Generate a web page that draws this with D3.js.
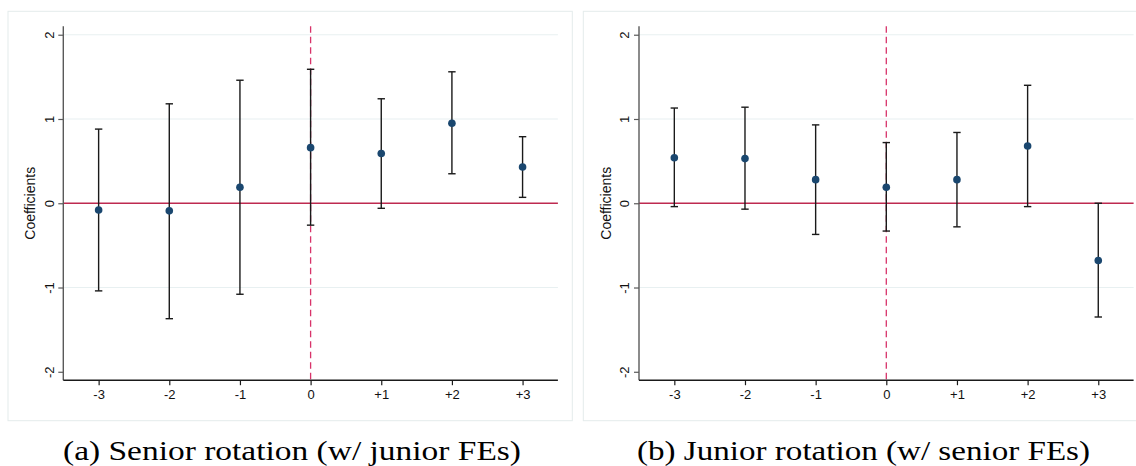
<!DOCTYPE html>
<html>
<head>
<meta charset="utf-8">
<script src="https://cdn.jsdelivr.net/npm/d3@7"></script>
<style>
  html, body { margin: 0; padding: 0; background: #ffffff; }
  svg { display: block; }
</style>
</head>
<body>
<svg id="chart" width="1136" height="466"></svg>
<script>
// Event-time periods relative to the rotation
const periods = [-3, -2, -1, 0, 1, 2, 3];
const periodLabels = ["-3", "-2", "-1", "0", "+1", "+2", "+3"];
const yTicks = [-2, -1, 0, 1, 2];
const gridTicks = [-1, 1, 2];

// (a) Senior rotation (w/ junior FEs)
const seniorCoef = [-0.08, -0.09, 0.19, 0.66, 0.59, 0.95, 0.43];
const seniorLo   = [-1.04, -1.37, -1.08, -0.26, -0.06, 0.35, 0.07];
const seniorHi   = [0.88, 1.18, 1.46, 1.59, 1.24, 1.56, 0.79];

// (b) Junior rotation (w/ senior FEs)
const juniorCoef = [0.54, 0.53, 0.28, 0.19, 0.28, 0.68, -0.68];
const juniorLo   = [-0.04, -0.07, -0.37, -0.33, -0.28, -0.04, -1.35];
const juniorHi   = [1.13, 1.14, 0.93, 0.72, 0.84, 1.40, 0.00];

const captions = ["(a) Senior rotation (w/ junior FEs)", "(b) Junior rotation (w/ senior FEs)"];

const svg = d3.select("#chart");
const sansFont = "'Liberation Sans', Arial, Helvetica, sans-serif";
const serifFont = "'Liberation Serif', 'Times New Roman', serif";

function drawPanel(cfg) {
  const { frameX, axisX0, axisX1, coef, lo, hi, caption, captionX, captionW } = cfg;
  const g = svg.append("g");

  // outer frame
  g.append("rect")
    .attr("x", frameX).attr("y", 11.3)
    .attr("width", 564.3).attr("height", 409.4)
    .attr("fill", "none").attr("stroke", "#e4ecec").attr("stroke-width", 1);

  const x = d3.scaleLinear().domain([-3.5, 3.5]).range([axisX0, axisX1]);
  const y = d3.scaleLinear().domain([-2.1, 2.1]).range([380.2, 26.3]);

  // horizontal gridlines
  g.append("g").selectAll("line").data(gridTicks).join("line")
    .attr("x1", axisX0).attr("x2", axisX1)
    .attr("y1", d => y(d)).attr("y2", d => y(d))
    .attr("stroke", "#e8f0f1").attr("stroke-width", 1.2);

  // zero line
  g.append("line")
    .attr("x1", axisX0).attr("x2", axisX1)
    .attr("y1", y(0)).attr("y2", y(0))
    .attr("stroke", "#be2a50").attr("stroke-width", 1.4);

  // dashed reference line at period 0
  g.append("line")
    .attr("x1", x(0)).attr("x2", x(0))
    .attr("y1", y(2.1)).attr("y2", y(-2.1))
    .attr("stroke", "#d8336a").attr("stroke-width", 1.3)
    .attr("stroke-dasharray", "6.5,4");

  const rows = periods.map((p, i) => ({ p, c: coef[i], lo: lo[i], hi: hi[i] }));

  // confidence intervals with caps
  const bars = g.append("g").selectAll("g").data(rows).join("g")
    .attr("stroke", "#1a1a1a").attr("stroke-width", 1.4);
  bars.append("line")
    .attr("x1", d => x(d.p)).attr("x2", d => x(d.p))
    .attr("y1", d => y(d.hi)).attr("y2", d => y(d.lo));
  bars.append("line")
    .attr("x1", d => x(d.p) - 3.7).attr("x2", d => x(d.p) + 3.7)
    .attr("y1", d => y(d.hi)).attr("y2", d => y(d.hi));
  bars.append("line")
    .attr("x1", d => x(d.p) - 3.7).attr("x2", d => x(d.p) + 3.7)
    .attr("y1", d => y(d.lo)).attr("y2", d => y(d.lo));

  // point estimates
  g.append("g").selectAll("circle").data(rows).join("circle")
    .attr("cx", d => x(d.p)).attr("cy", d => y(d.c))
    .attr("r", 3.8).attr("fill", "#1a476f");

  // y axis
  const yAxis = g.append("g")
    .attr("transform", `translate(${axisX0},0)`)
    .call(d3.axisLeft(y).tickValues(yTicks).tickSize(5).tickFormat(d3.format("d")));
  yAxis.select(".domain").attr("stroke", "#5a5a5a").attr("stroke-width", 1.4)
    .attr("d", `M0,${y(2.1)}V${y(-2.1)}`);
  yAxis.selectAll(".tick line").attr("stroke", "#5a5a5a").attr("stroke-width", 1.2);
  yAxis.selectAll(".tick text")
    .attr("x", null).attr("dy", null)
    .attr("transform", "translate(-9.6,0) rotate(-90)")
    .attr("text-anchor", "middle")
    .attr("fill", "#111")
    .style("font-family", sansFont).style("font-size", "13px")
    .text(d => d < 0 ? "-" + Math.abs(d) : d);

  // x axis
  const xAxis = g.append("g")
    .attr("transform", `translate(0,${y(-2.1)})`)
    .call(d3.axisBottom(x).tickValues(periods).tickSize(5)
      .tickFormat((d, i) => periodLabels[i]));
  xAxis.select(".domain").attr("stroke", "#1a1a1a").attr("stroke-width", 1.4)
    .attr("d", `M${axisX0},0H${axisX1}`);
  xAxis.selectAll(".tick line").attr("stroke", "#1a1a1a").attr("stroke-width", 1.2);
  xAxis.selectAll(".tick text")
    .attr("y", 19.3).attr("dy", null)
    .attr("fill", "#111")
    .style("font-family", sansFont).style("font-size", "13px");
  yAxis.attr("font-family", null).attr("font-size", null);
  xAxis.attr("font-family", null).attr("font-size", null);

  // y axis title
  g.append("text")
    .attr("transform", `translate(${axisX0 - 28},${y(0)}) rotate(-90)`)
    .attr("text-anchor", "middle")
    .attr("fill", "#111")
    .style("font-family", sansFont).style("font-size", "14px")
    .text("Coefficients");

  // caption below the panel
  g.append("text")
    .attr("x", captionX).attr("y", 459.5)
    .attr("textLength", captionW).attr("lengthAdjust", "spacingAndGlyphs")
    .attr("fill", "#000")
    .style("font-family", serifFont).style("font-size", "28px")
    .text(caption);
}

drawPanel({
  frameX: 8, axisX0: 63.3, axisX1: 557.9,
  coef: seniorCoef, lo: seniorLo, hi: seniorHi,
  caption: captions[0], captionX: 63, captionW: 458
});
drawPanel({
  frameX: 583.3, axisX0: 639, axisX1: 1133.6,
  coef: juniorCoef, lo: juniorLo, hi: juniorHi,
  caption: captions[1], captionX: 637, captionW: 453
});
</script>
</body>
</html>
